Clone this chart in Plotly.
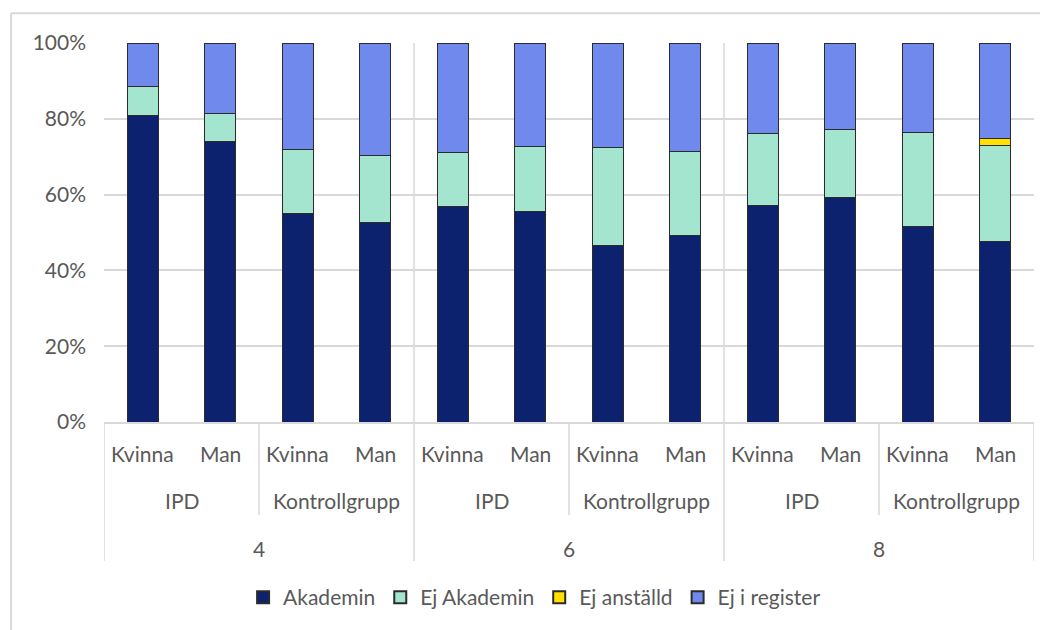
import plotly.graph_objects as go

# ---- data ----
time_points = ["4", "4", "4", "4", "6", "6", "6", "6", "8", "8", "8", "8"]
groups = ["IPD", "IPD", "Kontrollgrupp", "Kontrollgrupp"] * 3
genders = ["Kvinna", "Man"] * 6

akademin = [81.0, 74.0, 55.0, 52.6, 56.9, 55.6, 46.7, 49.1, 57.2, 59.2, 51.5, 47.5]
ej_akademin = [7.5, 7.4, 17.0, 17.7, 14.1, 17.1, 25.6, 22.2, 18.9, 17.9, 24.8, 25.5]
ej_anstalld = [0, 0, 0, 0, 0, 0, 0, 0, 0, 0, 0, 1.7]
ej_i_register = [round(100 - a - b - c, 1) for a, b, c in zip(akademin, ej_akademin, ej_anstalld)]

series_names = ["Akademin", "Ej Akademin", "Ej anställd", "Ej i register"]
series_values = [akademin, ej_akademin, ej_anstalld, ej_i_register]
series_colors = ["#0C226E", "#A4E5D0", "#FFE000", "#7089EC"]

y_ticks = [0, 0.2, 0.4, 0.6, 0.8, 1.0]

# ---- figure ----
keys = [f"{t}|{g}|{s}" for t, g, s in zip(time_points, groups, genders)]
font_family = "Lato, 'Open Sans', sans-serif"
txt_color = "#595959"
line_col = "#D9D9D9"
fs = 21

fig = go.Figure()
for name, vals, col in zip(series_names, series_values, series_colors):
    fig.add_trace(go.Bar(
        x=keys, y=[v / 100 for v in vals], name=name,
        marker=dict(color=col, line=dict(color="#2B2B2B", width=1)),
    ))

n = len(keys)
annotations = []
shapes = []

# level 1: gender labels
for i, g in enumerate(genders):
    annotations.append(dict(x=i, y=0, xref="x", yref="paper", text=g, showarrow=False,
                            yshift=-31, yanchor="middle",
                            font=dict(family=font_family, size=fs, color=txt_color)))

# level 2: group labels
i = 0
while i < n:
    j = i
    while j + 1 < n and groups[j + 1] == groups[i] and time_points[j + 1] == time_points[i]:
        j += 1
    annotations.append(dict(x=(i + j) / 2, y=0, xref="x", yref="paper", text=groups[i],
                            showarrow=False, yshift=-78, yanchor="middle",
                            font=dict(family=font_family, size=fs, color=txt_color)))
    if i > 0 and time_points[i - 1] == time_points[i]:
        shapes.append(dict(type="line", xref="x", yref="paper", x0=i - 0.5, x1=i - 0.5,
                           ysizemode="pixel", yanchor=0, y0=0, y1=-93,
                           line=dict(color=line_col, width=1.5)))
    i = j + 1

# level 3: time labels
i = 0
boundaries = [-0.5]
while i < n:
    j = i
    while j + 1 < n and time_points[j + 1] == time_points[i]:
        j += 1
    annotations.append(dict(x=(i + j) / 2, y=0, xref="x", yref="paper", text=time_points[i],
                            showarrow=False, yshift=-126, yanchor="middle",
                            font=dict(family=font_family, size=fs, color=txt_color)))
    boundaries.append(j + 0.5)
    i = j + 1

for b in boundaries:
    shapes.append(dict(type="line", xref="x", yref="paper", x0=b, x1=b,
                       ysizemode="pixel", yanchor=0, y0=0, y1=-139,
                       line=dict(color=line_col, width=1.5)))
for b in boundaries[1:-1]:
    shapes.append(dict(type="line", xref="x", yref="paper", x0=b, x1=b, y0=0, y1=1,
                       layer="below", line=dict(color=line_col, width=1.5)))

# chart-area border (top and left)
top_y = (35.8 - 6) / 380.5 + 1
left_x = (3 - 96) / 930
shapes.append(dict(type="line", xref="paper", yref="paper", x0=left_x, x1=1.2,
                   y0=top_y, y1=top_y, line=dict(color=line_col, width=2)))
shapes.append(dict(type="line", xref="paper", yref="paper", x0=left_x, x1=left_x,
                   y0=top_y, y1=-1.0, line=dict(color=line_col, width=2)))

fig.update_layout(
    width=1040, height=622,
    margin=dict(l=96, r=14, t=35, b=206),
    barmode="stack", bargap=0.6,
    plot_bgcolor="white", paper_bgcolor="white",
    font=dict(family=font_family, size=fs, color=txt_color),
    showlegend=True,
    legend=dict(orientation="h", x=0.463, xanchor="center", y=-0.463, yanchor="middle",
                font=dict(family=font_family, size=fs, color=txt_color),
                itemsizing="constant", traceorder="normal"),
    annotations=annotations, shapes=shapes,
)
fig.update_xaxes(showticklabels=False, showgrid=False, showline=True, linecolor=line_col,
                 linewidth=1.5, range=[-0.5, n - 0.5], ticks="")
fig.update_yaxes(range=[0, 1], tickvals=y_ticks, tickformat=".0%", showgrid=True,
                 gridcolor=line_col, gridwidth=1.5, zeroline=False, showline=False,
                 ticklabelstandoff=17, tickfont=dict(family=font_family, size=fs, color=txt_color))

fig.write_html("out.html")
